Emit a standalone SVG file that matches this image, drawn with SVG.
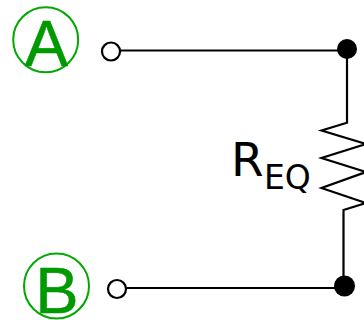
<svg xmlns="http://www.w3.org/2000/svg" width="364" height="320" viewBox="0 0 364 320">
<style>
.w{fill:none;stroke:#000;stroke-width:2.200}
.t{fill:#fff;stroke:#000;stroke-width:2.200}
.j{fill:#000}
.c{fill:#fff;stroke:#00a800;stroke-width:2}
.l{fill:#009900;stroke:#009900;stroke-width:0.500;font-family:"Liberation Sans",Arial,sans-serif;font-size:65px;text-anchor:middle}
.r{fill:#000;font-family:"DejaVu Sans",sans-serif}
</style>
<rect width="364" height="320" fill="#fff"/>
<g id="connectors">
<path class="w" d="M120.500 50.500H347"/>
<path class="w" d="M126.500 288H344"/>
<path class="w" d="M347 50V122.700L321.500 130.500L366 144L321.500 158L366 172L321.500 188L366 203L343.500 210V286"/>
</g>
<g id="node-a"><circle class="c" cx="45.700" cy="39.700" r="32.500"/><text class="l" x="46.500" y="65.500">A</text></g>
<g id="node-b"><circle class="c" cx="56.500" cy="286" r="32.500"/><text class="l" x="57" y="313">B</text></g>
<g id="terminal-a"><circle class="t" cx="111" cy="51.500" r="9"/></g>
<g id="terminal-b"><circle class="t" cx="117" cy="289" r="9"/></g>
<g id="junction-top"><circle class="j" cx="347" cy="49" r="10"/></g>
<g id="junction-bottom"><circle class="j" cx="344.500" cy="286" r="10.500"/></g>
<g id="resistor-label"><text class="r" x="231" y="176" font-size="47">R</text><text class="r" x="264" y="189" font-size="33">EQ</text></g>
</svg>
